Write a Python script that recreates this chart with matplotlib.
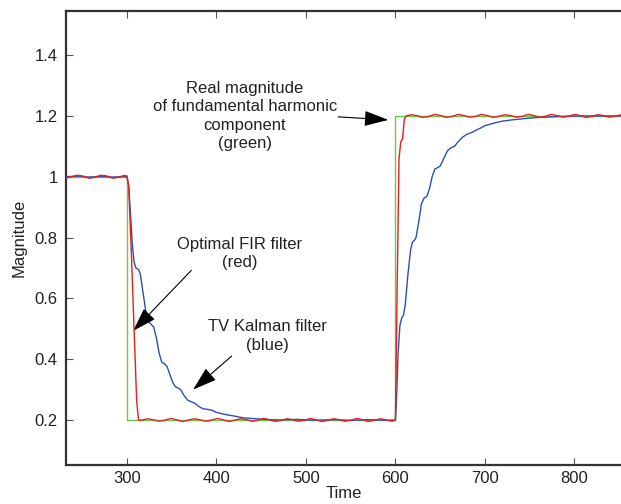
import matplotlib
matplotlib.use("Agg")
import matplotlib.pyplot as plt

plt.rcParams['font.family'] = ['Liberation Sans', 'DejaVu Sans']

# ---- data ----
green_t = [232, 300, 300, 600, 600, 852]
green_v = [1.0, 1.0, 0.2, 0.2, 1.2, 1.2]

red_t = [232, 238, 245, 251, 258, 264, 271, 277, 284, 290, 297, 300,
         302, 305, 308, 311, 313,
         316, 323, 329, 336, 342, 349, 355, 362, 368, 375, 381, 388, 394, 401,
         407, 414, 420, 427, 433, 440, 446, 453, 459, 466, 472, 479, 485, 492,
         498, 505, 511, 518, 524, 531, 537, 544, 550, 557, 563, 570, 576, 583,
         589, 596, 599,
         600, 602, 604, 606, 608, 610, 612,
         618, 625, 631, 638, 644, 651, 657, 664, 670, 677, 683, 690, 696, 703,
         709, 716, 722, 729, 735, 742, 748, 755, 761, 768, 774, 781, 787, 794,
         800, 807, 813, 820, 826, 833, 839, 846, 852]
red_v = [0.997, 1.0, 1.005, 1.002, 0.995, 0.998, 1.005, 1.003, 0.995, 0.998, 1.004, 1.003,
         0.97, 0.75, 0.5, 0.26, 0.2,
         0.199, 0.204, 0.201, 0.196, 0.199, 0.205, 0.201, 0.195, 0.199, 0.204, 0.201, 0.196, 0.199, 0.205,
         0.201, 0.195, 0.199, 0.204, 0.201, 0.196, 0.199, 0.205, 0.201, 0.195, 0.199, 0.204, 0.201, 0.196,
         0.199, 0.205, 0.201, 0.195, 0.199, 0.204, 0.201, 0.196, 0.199, 0.205, 0.201, 0.195, 0.199, 0.204,
         0.201, 0.196, 0.198,
         0.2, 0.65, 1.06, 1.115, 1.125, 1.19, 1.2,
         1.204, 1.2, 1.195, 1.199, 1.205, 1.201, 1.195, 1.199, 1.205, 1.201, 1.196, 1.199, 1.205, 1.201,
         1.195, 1.199, 1.204, 1.201, 1.196, 1.199, 1.205, 1.201, 1.195, 1.199, 1.205, 1.201, 1.196, 1.199,
         1.205, 1.201, 1.195, 1.199, 1.204, 1.201, 1.196, 1.199, 1.204]

blue_t = [232, 245, 258, 271, 284, 297, 300,
          302, 304, 306, 308, 310, 313, 315, 318, 321, 324, 327, 330, 333, 336,
          339, 342, 345, 348, 351, 354, 357, 360, 364, 368, 372, 376, 380, 385,
          390, 395, 400, 410, 420, 430, 440, 450, 460, 470, 490, 510, 530, 550,
          570, 590, 598, 600,
          601, 603, 605, 607, 609, 611, 614, 617, 619, 621, 623, 626, 629, 632,
          635, 638, 641, 644, 647, 650, 654, 658, 662, 666, 670, 675, 680, 685,
          690, 695, 700, 705, 712, 720, 730, 740, 750, 760, 775, 790, 810, 830, 852]
blue_v = [1.0, 1.002, 0.999, 1.001, 0.999, 1.001, 1.0,
          0.97, 0.88, 0.78, 0.72, 0.70, 0.695, 0.68, 0.62, 0.56, 0.525, 0.515, 0.505, 0.47, 0.42,
          0.39, 0.385, 0.375, 0.35, 0.325, 0.31, 0.305, 0.30, 0.28, 0.265, 0.26, 0.255, 0.245, 0.237,
          0.235, 0.232, 0.225, 0.218, 0.213, 0.207, 0.205, 0.203, 0.201, 0.2, 0.202, 0.199, 0.201, 0.199,
          0.201, 0.199, 0.2, 0.2,
          0.25, 0.42, 0.51, 0.535, 0.545, 0.58, 0.68, 0.76, 0.785, 0.79, 0.80, 0.85, 0.91, 0.93,
          0.935, 0.96, 1.0, 1.025, 1.03, 1.035, 1.06, 1.085, 1.095, 1.10, 1.115, 1.13, 1.14, 1.145,
          1.153, 1.16, 1.168, 1.172, 1.178, 1.183, 1.187, 1.19, 1.193, 1.195, 1.197, 1.199, 1.2, 1.2, 1.2]

yticks = [0.2, 0.4, 0.6, 0.8, 1.0, 1.2, 1.4]
ytick_labels = ['0.2', '0.4', '0.6', '0.8', '1', '1.2', '1.4']
xticks = [300, 400, 500, 600, 700, 800]

# ---- figure ----
fig = plt.figure(figsize=(6.21, 5.04), dpi=100)
ax = fig.add_axes([0.1063, 0.0774, 0.8937, 0.9007])

ax.plot(green_t, green_v, color='#66cc44', lw=1.0, zorder=2)
ax.plot(blue_t, blue_v, color='#2a4fb8', lw=1.0, zorder=3)
ax.plot(red_t, red_v, color='#ee1c1c', lw=1.0, zorder=4)

ax.set_xlim(232, 852)
ax.set_ylim(0.052, 1.545)
ax.set_xticks(xticks)
ax.set_yticks(yticks)
ax.set_yticklabels(ytick_labels)

tc = '#222222'
ax.tick_params(direction='in', length=5, width=0.8, labelsize=12, colors='#555555',
               labelcolor=tc, top=True, right=False)
ax.tick_params(axis='x', pad=4)
ax.tick_params(axis='y', pad=6)
for s in ['left', 'bottom', 'top']:
    ax.spines[s].set_color('#333333')
    ax.spines[s].set_linewidth(1.6)
ax.spines['right'].set_visible(False)

ax.set_xlabel('Time', fontsize=12, color=tc, labelpad=0)
ax.set_ylabel('Magnitude', fontsize=12, color=tc, labelpad=6)

arrow = dict(arrowstyle='-|>,head_length=1.0,head_width=0.32', color='black',
             lw=0.8, shrinkA=0, shrinkB=0, mutation_scale=15)

ax.text(432, 1.2, 'Real magnitude\nof fundamental harmonic\ncomponent\n(green)',
        ha='center', va='center', fontsize=12, color=tc, linespacing=1.3)
ax.annotate('', xy=(592, 1.187), xytext=(536, 1.197), arrowprops=arrow)

ax.text(426, 0.748, 'Optimal FIR filter\n(red)', ha='center', va='center',
        fontsize=12, color=tc, linespacing=1.3)
ax.annotate('', xy=(307, 0.493), xytext=(372, 0.692), arrowprops=arrow)

ax.text(457, 0.477, 'TV Kalman filter\n(blue)', ha='center', va='center',
        fontsize=12, color=tc, linespacing=1.3)
ax.annotate('', xy=(374, 0.30), xytext=(417, 0.41), arrowprops=arrow)

fig.savefig('out.png', dpi=100)
